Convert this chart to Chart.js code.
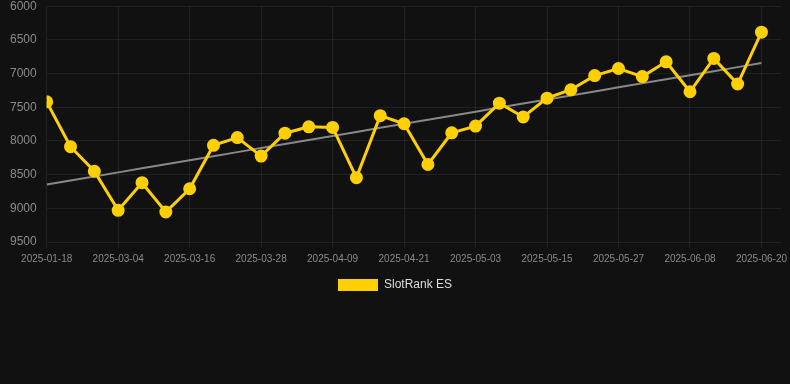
<!DOCTYPE html>
<html lang="en">
<head>
    <meta charset="UTF-8">
    <title>SlotRank ES</title>
    <script src="https://cdn.jsdelivr.net/npm/chart.js"></script>
    <style>
        html, body { margin: 0; padding: 0; background-color: #111111; overflow: hidden; }
        .chart-box { width: 790px; height: 312px; position: relative; top: -11px; }
    </style>
</head>
<body>
    <div class="chart-box">
        <canvas id="rankChart"></canvas>
    </div>

    <script>
        const dateLabels = [
            "2025-01-18", "2025-02-24", "2025-02-28", "2025-03-04", "2025-03-08", "2025-03-12",
            "2025-03-16", "2025-03-20", "2025-03-24", "2025-03-28", "2025-04-01", "2025-04-05",
            "2025-04-09", "2025-04-13", "2025-04-17", "2025-04-21", "2025-04-25", "2025-04-29",
            "2025-05-03", "2025-05-07", "2025-05-11", "2025-05-15", "2025-05-19", "2025-05-23",
            "2025-05-27", "2025-05-31", "2025-06-04", "2025-06-08", "2025-06-12", "2025-06-16",
            "2025-06-20"
        ];
        const rankValues = [
            7420, 8085, 8450, 9030, 8620, 9055, 8710, 8065, 7950, 8225,
            7885, 7790, 7800, 8545, 7625, 7745, 8350, 7880, 7780, 7440,
            7645, 7365, 7240, 7030, 6925, 7045, 6825, 7270, 6775, 7155,
            6385
        ];
        const yTicks = [6000, 6500, 7000, 7500, 8000, 8500, 9000, 9500];

        // least squares trend over the series
        const n = rankValues.length;
        let sx = 0, sy = 0, sxy = 0, sxx = 0;
        rankValues.forEach((v, i) => { sx += i; sy += v; sxy += i * v; sxx += i * i; });
        const slope = (n * sxy - sx * sy) / (n * sxx - sx * sx);
        const icpt = (sy - slope * sx) / n;
        const trendValues = rankValues.map((v, i) => icpt + slope * i);

        const tickColor = '#8a8a8a';
        const gridColor = 'rgba(255,255,255,0.07)';

        new Chart(document.getElementById('rankChart').getContext('2d'), {
            type: 'line',
            data: {
                datasets: [
                    {
                        label: 'SlotRank ES',
                        data: rankValues.map((v, i) => ({ x: i, y: v })),
                        borderColor: '#FFD000',
                        backgroundColor: '#FFD000',
                        borderWidth: 3,
                        pointRadius: 5,
                        pointHoverRadius: 6,
                        tension: 0,
                        order: 1
                    },
                    {
                        label: 'trend',
                        data: trendValues.map((v, i) => ({ x: i, y: v })),
                        borderColor: 'rgba(150,150,150,0.9)',
                        borderWidth: 2,
                        pointRadius: 0,
                        tension: 0,
                        order: 2
                    }
                ]
            },
            options: {
                responsive: true,
                maintainAspectRatio: false,
                animation: false,
                scales: {
                    x: {
                        type: 'linear',
                        min: 0,
                        max: 30.82,
                        grid: { color: gridColor, drawTicks: true, tickLength: 6 },
                        border: { display: false },
                        afterFit: (scale) => { scale.paddingRight = 0; },
                        ticks: {
                            stepSize: 3,
                            includeBounds: false,
                            maxRotation: 0,
                            autoSkip: false,
                            padding: 5,
                            color: tickColor,
                            font: { family: 'Liberation Sans, Arial', size: 10 },
                            callback: (val) => dateLabels[val] || ''
                        }
                    },
                    y: {
                        reverse: true,
                        min: 6000,
                        max: 9500,
                        grid: { color: gridColor, drawTicks: false },
                        border: { display: false },
                        afterBuildTicks: (axis) => { axis.ticks = yTicks.map(v => ({ value: v })); },
                        ticks: {
                            color: tickColor,
                            padding: 10,
                            font: { family: 'Liberation Sans, Arial', size: 12 },
                            callback: (val) => String(val)
                        }
                    }
                },
                plugins: {
                    legend: {
                        position: 'bottom',
                        labels: {
                            filter: (item) => item.text !== 'trend',
                            generateLabels: (chart) => Chart.defaults.plugins.legend.labels.generateLabels(chart)
                                .map(item => Object.assign(item, { lineWidth: 0 })),
                            boxWidth: 40,
                            boxHeight: 12,
                            color: '#dddddd',
                            padding: 9,
                            font: { family: 'Liberation Sans, Arial', size: 12 }
                        }
                    },
                    tooltip: { enabled: false }
                }
            }
        });
    </script>
</body>
</html>
